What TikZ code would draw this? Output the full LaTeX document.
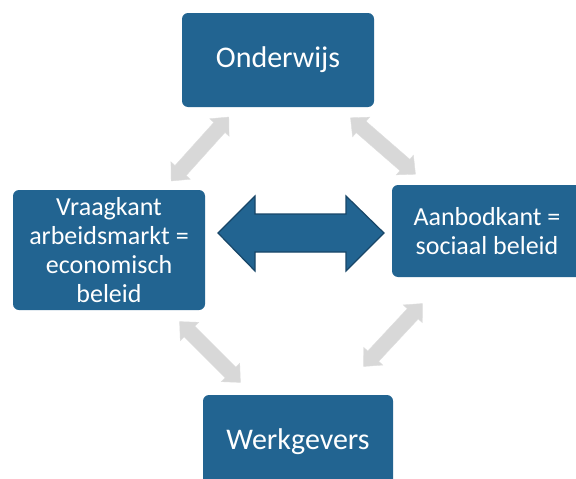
\documentclass[tikz,border=0pt]{standalone}
\usepackage{fontspec}
\setmainfont{Carlito}
\definecolor{boxblue}{RGB}{34,100,145}
\definecolor{arrowedge}{RGB}{24,70,104}
\definecolor{softgray}{RGB}{216,216,216}
\tikzset{
  bluebox/.style={fill=boxblue, rounded corners=6pt, text=white, align=center,
    inner sep=0pt, font=\fontsize{26}{29}\selectfont},
  bigtext/.style={font=\fontsize{30}{33}\selectfont},
  grayarrow/.style={fill=softgray, draw=softgray!85!white, line width=0.4pt},
}
\begin{document}
\begin{tikzpicture}[x=1pt,y=-1pt]
\useasboundingbox (0,0) rectangle (576,479);
\clip (0,0) rectangle (576,479);
\fill[white] (0,0) rectangle (576,479);

\node[bluebox, bigtext, minimum width=192pt, minimum height=94pt] (ond) at (278,60) {Onderwijs};
\node[bluebox, minimum width=192pt, minimum height=120pt] (vra) at (109,250) {Vraagkant\\arbeidsmarkt =\\economisch\\beleid};
\node[bluebox, minimum width=190pt, minimum height=92pt] (aan) at (487,231) {Aanbodkant =\\sociaal beleid};
\node[bluebox, bigtext, minimum width=190pt, minimum height=94pt] (wer) at (298,442) {Werkgevers};

% centres of the grey double arrows
\coordinate (tl) at (200,149);
\coordinate (tr) at (383,146);
\coordinate (bl) at (210,352);
\coordinate (br) at (393,335);
\coordinate (mid) at (301,233);

\foreach \c/\a in {tl/48, tr/-41, bl/-45, br/47}{
  \begin{scope}[shift={(\c)}, rotate=\a]
    \path[grayarrow] (-43,0) -- (-29,13) -- (-29,7.5) -- (29,7.5) -- (29,13)
      -- (43,0) -- (29,-13) -- (29,-7.5) -- (-29,-7.5) -- (-29,-13) -- cycle;
  \end{scope}
}

\begin{scope}[shift={(mid)}]
  \path[fill=boxblue, draw=arrowedge, line width=1.2pt, line join=miter]
    (-83,0) -- (-46,-37) -- (-46,-19) -- (45,-19) -- (45,-37) -- (83,0)
    -- (45,38) -- (45,19) -- (-46,19) -- (-46,38) -- cycle;
\end{scope}
\end{tikzpicture}
\end{document}
